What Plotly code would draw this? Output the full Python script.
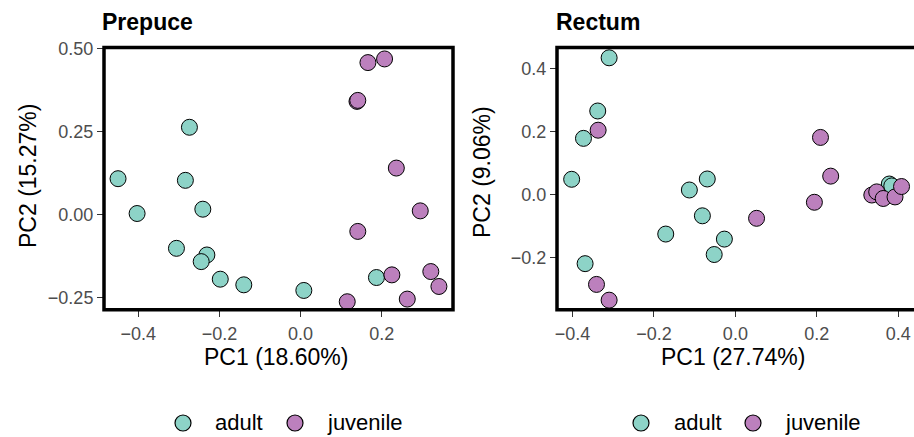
import plotly.graph_objects as go

# ---------------- data ----------------
prep_adult_x = [-0.274, -0.450, -0.284, -0.403, -0.241, -0.306, -0.231, -0.245, -0.198, -0.140, 0.008, 0.187]
prep_adult_y = [0.264, 0.109, 0.104, 0.004, 0.017, -0.101, -0.121, -0.141, -0.194, -0.211, -0.228, -0.189]
prep_juv_x = [0.166, 0.207, 0.139, 0.141, 0.236, 0.295, 0.141, 0.225, 0.321, 0.341, 0.263, 0.115]
prep_juv_y = [0.459, 0.470, 0.342, 0.345, 0.141, 0.012, -0.050, -0.181, -0.171, -0.216, -0.254, -0.262]

rect_adult_x = [-0.310, -0.338, -0.373, -0.402, -0.069, -0.113, -0.081, -0.171, -0.027, -0.052, -0.369, 0.378, 0.384]
rect_adult_y = [0.434, 0.265, 0.178, 0.048, 0.049, 0.014, -0.068, -0.126, -0.142, -0.191, -0.220, 0.033, 0.027]
rect_juv_x = [-0.337, 0.209, -0.341, -0.310, 0.052, 0.234, 0.194, 0.335, 0.347, 0.363, 0.392, 0.408]
rect_juv_y = [0.204, 0.181, -0.286, -0.336, -0.076, 0.058, -0.025, -0.002, 0.008, -0.013, -0.008, 0.025]

groups = ["adult", "juvenile"]
colors = {"adult": "#8DD3C7", "juvenile": "#BC80BD"}
panel_titles = ["Prepuce", "Rectum"]
x_titles = ["PC1 (18.60%)", "PC1 (27.74%)"]
y_titles = ["PC2 (15.27%)", "PC2 (9.06%)"]

FONT = "Liberation Sans, Arial, Helvetica, sans-serif"
W, H = 914, 437

fig = go.Figure()

panels = [
    ("x", "y", prep_adult_x, prep_adult_y, prep_juv_x, prep_juv_y),
    ("x2", "y2", rect_adult_x, rect_adult_y, rect_juv_x, rect_juv_y),
]
for xa, ya, ax, ay, jx, jy in panels:
    for g, xs, ys in (("adult", ax, ay), ("juvenile", jx, jy)):
        fig.add_trace(go.Scatter(
            x=xs, y=ys, mode="markers", name=g, xaxis=xa, yaxis=ya, showlegend=False,
            marker=dict(size=16, color=colors[g], line=dict(color="black", width=1)),
            cliponaxis=False, hoverinfo="skip",
        ))

ydom = [1 - 309.7 / H, 1 - 47.5 / H]
axis_common = dict(
    showgrid=False, zeroline=False, showline=False, automargin=False,
    ticks="outside", ticklen=6, tickwidth=1.2, tickcolor="#333333",
    tickfont=dict(family=FONT, size=18, color="#4D4D4D"),
)
fig.update_layout(
    width=W, height=H,
    margin=dict(l=0, r=0, t=0, b=0),
    paper_bgcolor="white", plot_bgcolor="white",
    font=dict(family=FONT, color="black"),
    showlegend=False,
    xaxis=dict(domain=[104 / W, 453 / W], range=[-0.4846, 0.3757], dtick=0.2, tick0=0,
               tickformat=".1f", anchor="y", ticklabelstandoff=2, **axis_common),
    yaxis=dict(domain=ydom, range=[-0.286, 0.5045], dtick=0.25, tick0=0,
               tickformat=".2f", anchor="x", **axis_common),
    xaxis2=dict(domain=[557 / W, 1.0], range=[-0.438, 0.4386], dtick=0.2, tick0=0,
                tickformat=".1f", anchor="y2", ticklabelstandoff=2, **axis_common),
    yaxis2=dict(domain=ydom, range=[-0.3663, 0.4667], dtick=0.2, tick0=0,
                tickformat=".1f", anchor="x2", **axis_common),
)

# panel borders
fig.add_shape(type="rect", xref="x domain", yref="y domain", x0=0, x1=1, y0=0, y1=1,
              line=dict(color="black", width=3.5), layer="above")
fig.add_shape(type="rect", xref="x2 domain", yref="y2 domain", x0=0, x1=1.05, y0=0, y1=1,
              line=dict(color="black", width=3.5), layer="above")

# titles and axis titles
title_x = [100, 554]
xt_center = [276, 733]
yt_x = [28, 482]
yt_y = [176, 172]
for i in range(2):
    fig.add_annotation(text="<b>%s</b>" % panel_titles[i], xref="paper", yref="paper",
                       x=title_x[i] / W, y=1 - 22 / H, xanchor="left", yanchor="middle",
                       showarrow=False, font=dict(family=FONT, size=23, color="black"))
    fig.add_annotation(text=x_titles[i], xref="paper", yref="paper",
                       x=xt_center[i] / W, y=1 - 357 / H, xanchor="center", yanchor="middle",
                       showarrow=False, font=dict(family=FONT, size=23, color="black"))
    fig.add_annotation(text=y_titles[i], xref="paper", yref="paper",
                       x=yt_x[i] / W, y=1 - yt_y[i] / H, xanchor="center", yanchor="middle",
                       textangle=-90, showarrow=False, font=dict(family=FONT, size=23, color="black"))

# legends (one under each panel)
legend_marker_x = [[183, 295], [641, 753]]
legend_text_x = [[213, 325], [672, 783]]
LEG_Y = 423
for p in range(2):
    for k, g in enumerate(groups):
        cx = legend_marker_x[p][k]
        fig.add_shape(type="circle", xref="paper", yref="paper",
                      xsizemode="pixel", ysizemode="pixel",
                      xanchor=cx / W, yanchor=1 - LEG_Y / H,
                      x0=-8, x1=8, y0=-8, y1=8,
                      fillcolor=colors[g], line=dict(color="black", width=1.2))
        fig.add_annotation(text=g, xref="paper", yref="paper",
                           x=legend_text_x[p][k] / W, y=1 - (LEG_Y - 1) / H,
                           xanchor="left", yanchor="middle", showarrow=False,
                           font=dict(family=FONT, size=22, color="black"))

fig.write_html("out.html")
